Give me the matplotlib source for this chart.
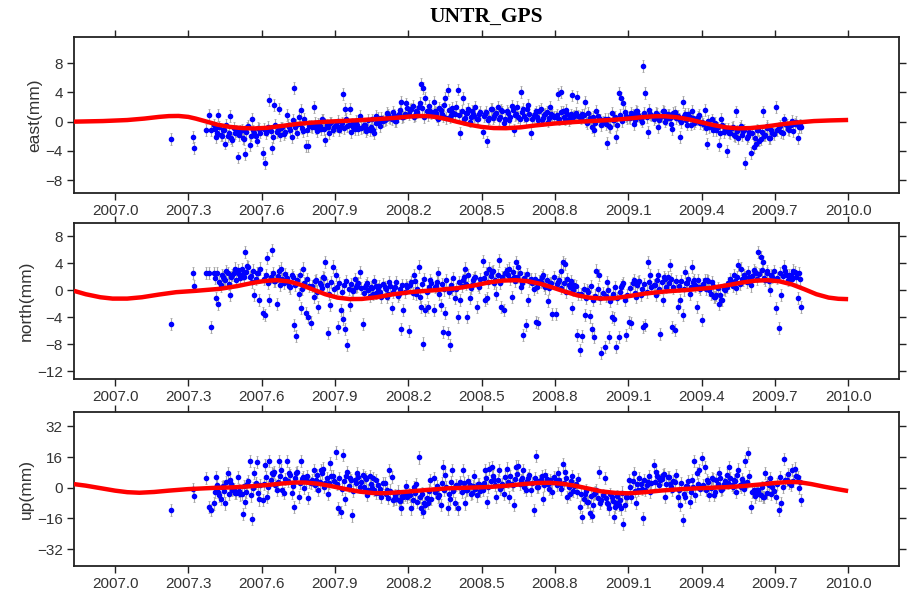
import numpy as np
import matplotlib
matplotlib.use("Agg")
import matplotlib.pyplot as plt

plt.rcParams['font.family'] = ['Liberation Sans', 'DejaVu Sans']

# epochs (decimal year), shared by all three components
t = [2007.229, 2007.318, 2007.324, 2007.371, 2007.384, 2007.394,
     2007.404, 2007.413, 2007.423, 2007.432, 2007.442, 2007.451, 2007.461, 2007.470, 2007.480, 2007.490,
     2007.504, 2007.513, 2007.523, 2007.532, 2007.542, 2007.551, 2007.561, 2007.570, 2007.580, 2007.590,
     2007.604, 2007.613, 2007.623, 2007.632, 2007.642, 2007.651, 2007.661, 2007.670, 2007.680, 2007.690,
     2007.704, 2007.713, 2007.723, 2007.732, 2007.742, 2007.751, 2007.761, 2007.770, 2007.780, 2007.790,
     2007.804, 2007.813, 2007.823, 2007.832, 2007.842, 2007.851, 2007.861, 2007.870, 2007.880, 2007.890,
     2007.904, 2007.913, 2007.923, 2007.932, 2007.942, 2007.951, 2007.961, 2007.970, 2007.980, 2007.990,
     2008.004, 2008.013, 2008.023, 2008.032, 2008.042, 2008.051, 2008.061, 2008.070, 2008.080, 2008.090,
     2008.104, 2008.113, 2008.123, 2008.132, 2008.142, 2008.151, 2008.161, 2008.170, 2008.180, 2008.190,
     2008.204, 2008.213, 2008.223, 2008.232, 2008.242, 2008.251, 2008.261, 2008.270, 2008.280, 2008.290,
     2008.304, 2008.313, 2008.323, 2008.332, 2008.342, 2008.351, 2008.361, 2008.370, 2008.380, 2008.390,
     2008.404, 2008.413, 2008.423, 2008.432, 2008.442, 2008.451, 2008.461, 2008.470, 2008.480, 2008.490,
     2008.504, 2008.513, 2008.523, 2008.532, 2008.542, 2008.551, 2008.561, 2008.570, 2008.580, 2008.590,
     2008.604, 2008.613, 2008.623, 2008.632, 2008.642, 2008.651, 2008.661, 2008.670, 2008.680, 2008.690,
     2008.704, 2008.713, 2008.723, 2008.732, 2008.742, 2008.751, 2008.761, 2008.770, 2008.780, 2008.790,
     2008.804, 2008.813, 2008.823, 2008.832, 2008.842, 2008.851, 2008.861, 2008.870, 2008.880, 2008.890,
     2008.904, 2008.913, 2008.923, 2008.932, 2008.942, 2008.951, 2008.961, 2008.970, 2008.980, 2008.990,
     2009.004, 2009.013, 2009.023, 2009.032, 2009.042, 2009.051, 2009.061, 2009.070, 2009.080, 2009.090,
     2009.104, 2009.113, 2009.123, 2009.132, 2009.142, 2009.151, 2009.161, 2009.170, 2009.180, 2009.190,
     2009.204, 2009.213, 2009.223, 2009.232, 2009.242, 2009.251, 2009.261, 2009.270, 2009.280, 2009.290,
     2009.304, 2009.313, 2009.323, 2009.332, 2009.342, 2009.351, 2009.361, 2009.370, 2009.380, 2009.390,
     2009.404, 2009.413, 2009.423, 2009.432, 2009.442, 2009.451, 2009.461, 2009.470, 2009.480, 2009.490,
     2009.504, 2009.513, 2009.523, 2009.532, 2009.542, 2009.551, 2009.561, 2009.570, 2009.580, 2009.590,
     2009.604, 2009.613, 2009.623, 2009.632, 2009.642, 2009.651, 2009.661, 2009.670, 2009.680, 2009.690,
     2009.705, 2009.716, 2009.727, 2009.738, 2009.749, 2009.760, 2009.771, 2009.782, 2009.796, 2009.808]

east = [-2.4, -2.1, -3.6, -1.1, 0.9, -1.1,
        -0.5, -2.1, 0.9, -1.8, -1.2, -3.0, -2.0, 0.8, -2.5, -1.6,
        -4.9, -1.3, -2.2, -4.4, -0.8, -3.2, 0.4, -1.5, -2.6, -1.0,
        -4.3, -5.7, -1.2, 3.0, -3.6, 2.3, -1.4, 1.8, -0.9, -1.7,
        0.9, -0.8, -2.1, 4.6, -0.4, 0.6, 1.6, -1.3, -3.3, -3.3,
        -0.6, 2.0, -0.9, -0.3, -1.0, 0.2, -2.5, -0.7, -0.2, -1.1,
        -0.5, 0.1, -0.8, 3.8, 1.7, -0.6, 1.8, -0.3, -1.0, -0.5,
        0.8, -0.7, -0.4, -1.0, -1.1, 0.3, -1.6, 0.8, 0.0, 0.5,
        0.2, 1.2, 0.6, 0.4, 0.9, 0.1, 1.1, 2.7, 0.7, 2.5,
        1.0, 1.8, 0.7, 1.4, 2.0, 5.2, 4.6, 3.2, 0.9, 1.5,
        2.7, 1.2, 0.3, 1.6, 0.8, 3.2, 4.3, 0.6, 1.9, 1.0,
        4.4, -1.6, 3.2, 0.5, 1.2, 0.0, 1.5, 0.8, 0.3, 1.0,
        -1.4, 1.0, -2.7, 0.5, 1.8, 0.8, 1.2, 0.3, 1.6, -0.2,
        1.5, 0.2, 2.2, -1.1, 1.0, 0.6, 4.1, 1.8, 0.4, 2.3,
        -1.6, 0.8, 1.4, 0.2, 1.8, 0.5, 1.1, 0.0, 2.0, 0.9,
        0.6, 3.8, 4.1, 1.4, 0.3, 1.0, 0.5, 3.6, 0.8, 3.4,
        0.7, 1.0, 2.7, -0.2, 0.5, -0.8, -1.1, 1.5, 0.3, -0.5,
        0.4, -2.9, -0.6, 1.2, 0.2, -2.1, 3.9, 3.2, 2.5, 0.8,
        0.6, 1.2, -0.3, 1.5, 0.9, 0.4, 7.6, 3.9, -1.4, 1.0,
        0.3, 1.2, -0.8, 0.7, 1.5, 0.0, 1.0, 0.5, -1.0, 1.3,
        0.8, -2.1, 2.7, 1.1, -0.4, 0.6, 1.5, -0.2, 0.3, 0.9,
        0.0, 1.6, -3.0, -0.8, 0.3, -0.5, -1.2, -3.2, 0.4, -1.4,
        -4.0, -1.5, -0.9, -1.8, 1.4, -2.2, -0.6, -1.3, -5.7, -2.0,
        -4.3, -3.5, -3.0, -1.2, -2.4, 1.4, -1.8, -0.6, -2.2, -1.5,
        2.0, -0.8, -1.4, 0.3, -0.5, -1.1, 0.1, -0.3, -2.3, -0.7]

north = [-5.0, 2.6, 0.6, 2.5, 2.5, -5.4,
         2.6, -1.2, -2.1, 0.7, 2.0, 1.5, 2.5, -0.7, 2.2, 3.2,
         3.0, 1.8, 2.4, 5.7, 3.6, 2.0, 1.2, -0.7, 2.6, -1.5,
         -3.4, -3.7, 4.7, -1.5, 5.9, 1.4, -2.0, 2.8, 3.2, 1.0,
         1.8, 0.6, 2.2, -5.2, -6.8, -0.6, -2.7, 3.2, -3.4, -4.0,
         -4.8, -1.0, 1.5, -2.5, 0.8, 2.0, 4.2, -6.4, -2.2, 3.5,
         2.2, -5.4, -3.0, -4.2, -5.7, -8.1, -2.2, 0.0, 1.7, 0.7,
         2.7, -5.0, 0.5, 1.0, -0.8, 0.3, 1.4, -0.4, 0.6, -1.0,
         0.5, -1.0, 1.2, -2.7, 0.3, 1.2, -0.5, -5.7, -3.0, 0.8,
         -6.1, 1.2, 2.2, -0.5, 3.5, -2.5, -7.9, -3.0, -2.5, 1.5,
         -3.0, 0.6, 2.5, -2.2, -6.2, -3.4, -6.4, -8.1, 0.2, -1.2,
         -4.0, -1.5, 1.5, 3.2, -4.0, -1.2, 0.8, 1.8, -2.5, 0.5,
         4.3, -1.5, -1.2, 3.2, 2.7, 1.0, -0.5, 4.4, -2.5, -3.0,
         3.0, 3.2, -1.0, 2.0, 4.2, 3.5, 0.5, -6.6, -5.2, -1.5,
         1.7, 0.2, -4.7, -4.9, 1.2, 2.2, 0.4, -1.6, 1.0, -3.5,
         -3.5, 1.2, 2.9, 4.1, 3.9, 1.6, 0.5, -2.7, 0.8, -6.6,
         -8.9, -6.8, -3.7, 0.0, -3.9, -5.7, -6.9, 2.9, 2.2, -9.3,
         -8.4, 1.2, -6.9, -4.0, -4.2, -8.4, -6.9, 0.5, 1.0, -6.7,
         -4.7, -4.9, 1.5, -1.0, 1.2, -0.7, -5.4, -5.2, 4.2, 2.2,
         0.7, -0.7, 2.2, -6.5, -1.4, 1.7, 2.0, 3.7, -5.4, -5.9,
         -2.5, -1.5, -3.7, 2.7, 1.0, -0.5, 3.5, 1.5, -2.5, 0.5,
         -4.4, 1.5, 1.5, 0.0, 1.2, -1.0, -0.7, -2.0, -1.5, 0.2,
         0.5, 1.0, 1.2, 2.2, 0.3, 3.7, 3.2, 1.5, 2.0, 2.7,
         0.7, 3.0, 2.5, 5.7, 4.9, 4.2, 1.5, 2.8, 0.0, 2.0,
         -2.7, -5.6, -0.7, 3.5, 2.2, 2.2, 1.7, 2.7, -1.2, -2.5]

up = [-11.6, -0.9, -4.3, 4.9, -9.9, -11.6,
      -8.2, 5.4, -2.0, -5.6, 1.0, -8.2, 7.5, 4.0, -1.2, -2.9,
      5.7, -3.5, -13.7, -7.3, 2.0, 13.9, -16.3, 7.5, 13.5, -6.1,
      -6.4, 11.8, -4.7, 14.1, 7.5, 8.3, -1.2, 14.1, 9.2, -2.9,
      14.1, 7.5, -2.9, -10.2, 7.5, -5.0, 14.1, 5.7, 4.0, -5.2,
      2.3, 9.2, 4.0, -1.2, 9.2, 10.0, 2.3, -3.0, 12.7, 6.0,
      18.4, -10.8, -12.5, 17.0, -5.7, 8.3, 4.9, -14.4, 4.0, 7.5,
      0.5, 6.6, 5.7, -3.8, 6.1, 0.0, -1.2, 4.0, -2.9, -4.7,
      2.3, -1.2, 9.2, 5.7, -5.6, -5.6, -6.4, -10.8, -4.7, 1.0,
      -3.3, -10.8, 0.5, 2.0, 15.8, -10.8, -12.5, -9.0, -7.8, 4.0,
      4.9, -1.2, -4.7, -9.0, 11.0, 6.6, -10.8, -5.6, 9.2, -8.2,
      -10.8, 3.1, 9.2, -8.2, -1.2, 1.5, -2.9, 6.0, -4.0, 2.0,
      -1.2, 9.2, -7.3, 10.0, 10.6, 4.0, -4.7, 9.2, 0.5, -3.0,
      10.0, -4.7, 2.0, -9.0, 11.0, 11.4, 4.0, 9.2, -1.2, 5.0,
      -1.2, -11.6, 16.5, 0.5, 4.0, -5.6, 6.6, 2.0, 4.0, -2.0,
      4.0, 7.5, 2.0, 12.3, 8.3, -4.7, -3.0, 6.0, 1.0, -2.0,
      -10.0, -15.1, -3.0, -7.3, -13.3, -14.6, -3.0, -1.2, 8.3, -6.4,
      4.9, -8.2, -10.8, -4.7, -15.1, -8.2, -9.0, -10.8, -18.9, -4.7,
      4.0, -4.7, 7.5, -7.8, -1.2, 2.0, -16.0, -1.2, 3.0, -2.0,
      11.8, 8.3, 5.7, 4.0, 6.6, -4.7, 5.7, 2.0, -1.0, 3.0,
      -4.7, -9.0, -16.8, -4.7, 1.0, -7.3, 4.0, 13.9, 7.5, 9.2,
      15.3, 10.9, 4.0, -3.8, 4.9, -3.8, 4.0, 7.5, -1.0, 2.0,
      6.6, 10.9, 1.4, 4.0, -2.0, 9.5, 0.5, 3.0, 14.1, 18.2,
      -9.9, -1.2, -3.0, -1.2, -3.8, -4.7, 7.5, 2.3, 5.0, 0.5,
      -4.7, -11.6, -8.2, 14.8, 4.0, 2.3, 9.2, 10.0, 5.7, -6.4]

# second batch of epochs: the dense core of each cloud
t2 = [2007.408, 2007.418, 2007.427, 2007.437, 2007.446, 2007.456, 2007.466, 2007.475, 2007.485, 2007.495,
      2007.508, 2007.518, 2007.527, 2007.537, 2007.546, 2007.556, 2007.566, 2007.575, 2007.585, 2007.595,
      2007.608, 2007.618, 2007.627, 2007.637, 2007.646, 2007.656, 2007.666, 2007.675, 2007.685, 2007.695,
      2007.708, 2007.718, 2007.727, 2007.737, 2007.746, 2007.756, 2007.766, 2007.775, 2007.785, 2007.795,
      2007.808, 2007.818, 2007.827, 2007.837, 2007.846, 2007.856, 2007.866, 2007.875, 2007.885, 2007.895,
      2007.908, 2007.918, 2007.927, 2007.937, 2007.946, 2007.956, 2007.966, 2007.975, 2007.985, 2007.995,
      2008.008, 2008.018, 2008.027, 2008.037, 2008.046, 2008.056, 2008.066, 2008.075, 2008.085, 2008.095,
      2008.108, 2008.118, 2008.127, 2008.137, 2008.146, 2008.156, 2008.166, 2008.175, 2008.185, 2008.195,
      2008.208, 2008.218, 2008.227, 2008.237, 2008.246, 2008.256, 2008.266, 2008.275, 2008.285, 2008.295,
      2008.308, 2008.318, 2008.327, 2008.337, 2008.346, 2008.356, 2008.366, 2008.375, 2008.385, 2008.395,
      2008.408, 2008.418, 2008.427, 2008.437, 2008.446, 2008.456, 2008.466, 2008.475, 2008.485, 2008.495,
      2008.508, 2008.518, 2008.527, 2008.537, 2008.546, 2008.556, 2008.566, 2008.575, 2008.585, 2008.595,
      2008.608, 2008.618, 2008.627, 2008.637, 2008.646, 2008.656, 2008.666, 2008.675, 2008.685, 2008.695,
      2008.708, 2008.718, 2008.727, 2008.737, 2008.746, 2008.756, 2008.766, 2008.775, 2008.785, 2008.795,
      2008.808, 2008.818, 2008.827, 2008.837, 2008.846, 2008.856, 2008.866, 2008.875, 2008.885, 2008.895,
      2008.908, 2008.918, 2008.927, 2008.937, 2008.946, 2008.956, 2008.966, 2008.975, 2008.985, 2008.995,
      2009.008, 2009.018, 2009.027, 2009.037, 2009.046, 2009.056, 2009.066, 2009.075, 2009.085, 2009.095,
      2009.108, 2009.118, 2009.127, 2009.137, 2009.146, 2009.156, 2009.166, 2009.175, 2009.185, 2009.195,
      2009.208, 2009.218, 2009.227, 2009.237, 2009.246, 2009.256, 2009.266, 2009.275, 2009.285, 2009.295,
      2009.308, 2009.318, 2009.327, 2009.337, 2009.346, 2009.356, 2009.366, 2009.375, 2009.385, 2009.395,
      2009.408, 2009.418, 2009.427, 2009.437, 2009.446, 2009.456, 2009.466, 2009.475, 2009.485, 2009.495,
      2009.508, 2009.518, 2009.527, 2009.537, 2009.546, 2009.556, 2009.566, 2009.575, 2009.585, 2009.595,
      2009.608, 2009.618, 2009.627, 2009.637, 2009.646, 2009.656, 2009.666, 2009.675, 2009.685, 2009.695,
      2009.710, 2009.721, 2009.732, 2009.743, 2009.754, 2009.765, 2009.776, 2009.787, 2009.799, 2009.804]

east2 = [-1.0, -1.6, -0.7, -1.9, -1.2, -0.4, -1.5, -2.2, -0.9, -1.3,
         -1.8, -1.1, -2.4, -1.4, -0.6, -1.9, -1.2, -2.0, -0.9, -1.5,
         -1.0, -1.6, -0.7, -1.3, -2.1, -0.5, -1.1, -1.8, -0.8, -1.4,
         -0.4, -1.2, 0.2, -0.8, -1.5, -0.3, -0.9, 0.4, -1.1, -0.6,
         -0.8, -0.2, -1.3, -0.6, 0.3, -1.0, -0.4, -1.6, -0.1, -0.7,
         -0.6, -1.2, -0.2, -0.9, 0.4, -0.5, -1.4, -0.8, 0.1, -1.0,
         -0.9, -0.4, -1.3, 0.2, -0.7, -1.1, -0.2, 0.5, -0.6, 0.1,
         0.3, 0.9, 0.5, 1.3, 0.1, 0.8, 1.6, 0.6, 1.1, 1.9,
         1.6, 2.2, 0.9, 1.3, 2.6, 1.9, 0.6, 1.4, 2.1, 1.1,
         1.4, 0.7, 1.9, 1.1, 2.3, 0.5, 1.6, 0.9, 1.2, 2.0,
         0.9, 1.5, 0.4, 1.2, 1.8, 0.6, 1.0, 2.0, 0.3, 1.3,
         0.8, 1.3, 0.2, 1.7, 0.5, 1.0, 2.0, 0.7, 1.4, 0.3,
         1.2, 0.6, 1.6, 0.9, 2.0, 0.4, 1.3, 0.8, 1.7, 1.0,
         0.4, 1.1, 0.7, 1.5, 0.2, 0.9, 1.3, 0.5, 1.0, 0.6,
         0.9, 0.4, 1.3, 0.7, 1.6, 0.2, 1.0, 0.6, 1.2, 0.8,
         0.5, 0.9, 0.1, 1.2, 0.4, 0.7, -0.2, 0.8, 0.3, 0.0,
         -0.3, 0.4, -0.7, 0.2, 0.7, -0.4, 0.9, 0.1, 1.3, 0.5,
         0.5, 1.0, 0.2, 1.4, 0.7, 0.0, 1.2, 0.6, 1.6, 0.9,
         0.6, 1.1, 0.2, 0.8, 1.4, 0.4, 0.9, -0.3, 1.2, 0.5,
         0.4, -0.1, 0.8, 0.2, 1.1, -0.4, 0.5, 0.0, 0.7, -0.2,
         -0.3, -0.9, 0.1, -0.6, -1.2, -0.2, -0.8, -1.5, -0.5, -1.0,
         -1.0, -1.6, -0.7, -2.0, -1.3, -0.9, -1.8, -1.1, -2.3, -1.4,
         -1.6, -2.2, -1.1, -2.6, -1.4, -1.9, -0.9, -2.3, -1.2, -1.7,
         -1.2, -0.6, -1.6, -0.3, -1.0, -0.5, -1.3, 0.0, -0.8, -0.4]

north2 = [1.8, 2.5, 1.2, 2.2, 1.6, 2.8, 0.9, 2.0, 2.6, 1.5,
          2.4, 3.1, 1.9, 2.7, 3.4, 2.1, 2.9, 1.6, 2.5, 3.2,
          1.6, 2.3, 1.1, 1.9, 2.6, 1.3, 2.1, 0.8, 1.7, 2.4,
          1.2, 0.4, 1.9, 0.8, 1.5, 2.3, 0.2, 1.1, 1.7, 0.6,
          0.6, 1.4, -0.2, 1.0, 0.3, 1.8, 0.8, -0.5, 1.2, 0.1,
          0.4, 1.0, -0.3, 0.7, 1.3, 0.2, 0.9, -0.1, 0.5, 1.1,
          0.3, -0.4, 0.8, 0.0, 0.5, -0.6, 0.6, 0.1, -0.2, 0.9,
          0.1, -0.5, 0.6, -0.2, 0.4, -0.8, 0.2, 0.7, -0.3, 0.5,
          0.8, -0.4, 1.3, 0.2, -1.0, 0.9, 1.6, -0.2, 0.5, 1.1,
          0.5, 1.2, -0.6, 0.9, 0.1, 1.5, -0.3, 0.7, 1.8, 0.2,
          1.2, 0.6, 1.9, 0.9, 2.3, 0.3, 1.5, 2.0, 0.8, 1.6,
          1.8, 2.5, 1.2, 2.1, 2.8, 1.5, 2.3, 1.0, 1.9, 2.6,
          2.2, 1.6, 2.7, 1.3, 2.0, 2.5, 1.1, 1.8, 2.4, 1.4,
          1.0, 1.7, 0.5, 1.3, 2.0, 0.8, 1.5, 0.3, 1.1, 1.9,
          0.9, 1.5, 0.3, 1.1, -0.2, 0.7, 1.3, 0.0, 0.6, -0.5,
          -0.6, 0.2, -1.2, -0.3, 0.6, -1.5, -0.8, 0.1, -1.1, -0.4,
          -0.9, 0.0, -1.6, -0.5, 0.4, -1.2, -0.2, 0.7, -1.4, -0.7,
          0.3, 1.0, -0.4, 0.7, 1.4, 0.1, 0.9, -0.2, 1.2, 0.5,
          0.8, 1.5, 0.2, 1.2, 1.9, 0.5, 1.1, 1.7, 0.4, 1.3,
          0.6, 1.3, 0.1, 1.0, 1.7, 0.4, 1.2, 0.7, 1.5, 0.2,
          0.9, 0.2, 1.4, -0.5, 0.6, -1.0, 0.3, -0.7, -1.4, 0.0,
          1.0, 1.7, 0.6, 1.4, 2.0, 0.9, 1.6, 2.3, 1.2, 1.9,
          2.1, 2.7, 1.6, 2.4, 3.0, 1.8, 2.5, 1.4, 2.2, 2.8,
          1.8, 2.5, 2.1, 2.8, 1.5, 2.3, 2.9, 1.9, 2.6, 1.6]

up2 = [-2.0, 1.5, -4.0, 0.5, -1.5, 3.0, -3.0, 2.0, -0.5, -2.5,
       -1.5, -3.0, 1.0, -2.0, 3.5, -4.0, 0.0, 2.5, -2.5, 1.5,
       2.0, 5.5, 0.5, 4.0, 7.0, 1.5, 3.0, 6.0, -1.0, 4.5,
       3.5, 6.5, 1.0, 5.0, 8.0, 2.5, 4.5, 0.0, 6.0, 3.0,
       4.0, 1.5, 6.5, 3.0, 7.5, 0.5, 5.0, 2.5, 6.0, 3.5,
       2.0, 5.0, -0.5, 3.5, 6.0, 1.0, 4.0, -1.5, 2.5, 5.5,
       3.0, 0.5, 4.5, -1.0, 2.0, 5.0, -2.5, 1.5, -0.5, 2.5,
       -3.0, -5.5, -1.5, -6.5, -4.0, -2.0, -7.0, -4.5, -3.5, -5.0,
       -4.0, -6.5, -2.5, -7.5, -5.0, -3.0, -8.0, -5.5, -1.5, -6.0,
       -2.0, 1.0, -4.0, 2.5, -1.0, 0.5, -3.0, 3.0, -1.5, 1.5,
       0.5, -2.0, 2.5, -1.0, 3.5, -3.0, 1.0, -0.5, 2.0, -1.5,
       2.5, 5.0, 0.5, 3.5, 6.0, 1.5, 4.0, -0.5, 2.0, 5.5,
       3.0, 6.0, 1.5, 4.5, 7.0, 2.0, 5.0, 0.5, 3.5, 6.5,
       2.5, 5.0, 0.5, 3.5, 6.0, 1.5, 4.5, -0.5, 3.0, 5.5,
       1.5, 4.0, -0.5, 2.5, 5.0, 0.5, 3.5, -1.5, 2.0, 4.5,
       -3.0, -6.0, -1.5, -7.5, -4.5, -9.0, -2.5, -5.5, -8.0, -4.0,
       -5.5, -8.5, -3.5, -7.0, -10.0, -4.5, -6.5, -2.5, -9.0, -5.0,
       0.5, 3.5, -1.5, 2.0, 5.0, -0.5, 4.0, 1.5, 6.0, 2.5,
       3.0, 6.0, 1.5, 4.5, 7.0, 2.0, 5.5, 0.5, 3.5, 6.5,
       -1.0, 2.5, -3.0, 1.0, 3.5, -2.0, 0.5, -4.0, 2.0, -0.5,
       1.5, -1.0, 3.0, 0.0, 4.5, -2.0, 2.0, 5.0, -0.5, 3.5,
       2.5, 5.0, 0.5, 3.5, 6.5, 1.5, 4.5, -0.5, 3.0, 6.0,
       -2.0, -4.5, -1.0, -3.5, 0.5, -5.0, -2.5, 1.5, -3.0, -1.5,
       2.0, 5.5, 0.5, 4.0, 7.0, 1.5, 3.5, 6.0, 0.0, 3.0]

# seasonal model curves (red), read at knots
east_fit_t = [2006.832, 2006.95, 2007.05, 2007.12, 2007.18, 2007.22, 2007.26, 2007.30, 2007.33,
              2007.37, 2007.42, 2007.47, 2007.52, 2007.57, 2007.62, 2007.68, 2007.75, 2007.82,
              2007.90, 2007.98, 2008.06, 2008.14, 2008.20, 2008.24, 2008.28, 2008.32, 2008.36,
              2008.40, 2008.45, 2008.50, 2008.55, 2008.60, 2008.66, 2008.72, 2008.80, 2008.88,
              2008.96, 2009.04, 2009.10, 2009.16, 2009.21, 2009.25, 2009.30, 2009.35, 2009.40,
              2009.45, 2009.50, 2009.55, 2009.60, 2009.66, 2009.72, 2009.78, 2009.86, 2009.93,
              2010.00]
east_fit = [0.0, 0.08, 0.22, 0.42, 0.65, 0.76, 0.78, 0.65, 0.42,
            0.05, -0.42, -0.72, -0.88, -0.93, -0.85, -0.6, -0.3, -0.1,
            0.05, 0.17, 0.32, 0.5, 0.68, 0.77, 0.76, 0.6, 0.32,
            -0.02, -0.42, -0.72, -0.88, -0.9, -0.78, -0.52, -0.25, -0.05,
            0.1, 0.25, 0.42, 0.62, 0.74, 0.74, 0.6, 0.3, -0.1,
            -0.48, -0.78, -0.92, -0.88, -0.68, -0.4, -0.15, 0.08, 0.17,
            0.23]

north_fit_t = [2006.832, 2006.88, 2006.94, 2006.99, 2007.05, 2007.11, 2007.18, 2007.25, 2007.33,
               2007.43, 2007.50, 2007.56, 2007.61, 2007.66, 2007.71, 2007.76, 2007.81, 2007.86,
               2007.91, 2007.96, 2008.01, 2008.07, 2008.14, 2008.22, 2008.31, 2008.40, 2008.47,
               2008.53, 2008.59, 2008.64, 2008.69, 2008.74, 2008.79, 2008.84, 2008.89, 2008.94,
               2008.99, 2009.04, 2009.10, 2009.17, 2009.25, 2009.35, 2009.44, 2009.51, 2009.57,
               2009.62, 2009.67, 2009.72, 2009.77, 2009.82, 2009.87, 2009.92, 2009.96, 2010.00]
north_fit = [-0.1, -0.6, -1.05, -1.25, -1.25, -1.05, -0.65, -0.3, -0.1,
             0.2, 0.6, 1.05, 1.35, 1.48, 1.3, 0.8, 0.1, -0.6,
             -1.1, -1.32, -1.3, -1.05, -0.6, -0.25, 0.0, 0.3, 0.7,
             1.15, 1.42, 1.48, 1.32, 0.95, 0.4, -0.2, -0.75, -1.1,
             -1.25, -1.2, -0.9, -0.5, -0.2, 0.05, 0.35, 0.75, 1.15,
             1.4, 1.48, 1.3, 0.85, 0.15, -0.6, -1.1, -1.28, -1.33]

up_fit_t = [2006.832, 2006.88, 2006.94, 2007.00, 2007.05, 2007.10, 2007.16, 2007.22, 2007.30,
            2007.40, 2007.48, 2007.56, 2007.63, 2007.69, 2007.74, 2007.78, 2007.83, 2007.88,
            2007.94, 2008.00, 2008.06, 2008.11, 2008.18, 2008.27, 2008.36, 2008.46, 2008.53,
            2008.60, 2008.67, 2008.73, 2008.78, 2008.83, 2008.88, 2008.94, 2008.99, 2009.05,
            2009.10, 2009.16, 2009.24, 2009.33, 2009.42, 2009.50, 2009.57, 2009.64, 2009.70,
            2009.76, 2009.80, 2009.85, 2009.90, 2009.95, 2010.00]
up_fit = [1.9, 1.1, -0.2, -1.5, -2.3, -2.6, -2.2, -1.5, -0.7,
          -0.1, 0.2, 0.8, 1.5, 2.3, 2.75, 2.7, 2.1, 1.0,
          -0.6, -2.0, -2.8, -2.8, -2.2, -1.2, -0.3, 0.1, 0.4,
          1.0, 1.9, 2.5, 2.6, 2.1, 1.1, -0.5, -1.9, -2.7,
          -2.9, -2.4, -1.4, -0.6, -0.1, 0.3, 0.9, 1.7, 2.5,
          3.0, 2.9, 1.9, 0.6, -0.6, -1.7]

xticks = [2007.0, 2007.3, 2007.6, 2007.9, 2008.2, 2008.5, 2008.8, 2009.1, 2009.4, 2009.7, 2010.0]

panels = [
    ("east(mm)", east, east2, 0.8, east_fit_t, east_fit, (-9.77, 11.6), [8, 4, 0, -4, -8]),
    ("north(mm)", north, north2, 0.9, north_fit_t, north_fit, (-13.2, 9.9), [8, 4, 0, -4, -8, -12]),
    ("up(mm)", up, up2, 3.2, up_fit_t, up_fit, (-40.6, 39.6), [32, 16, 0, -16, -32]),
]
boxes = [[0.0811, 0.6773, 0.9046, 0.2609],
         [0.0811, 0.3657, 0.9046, 0.2609],
         [0.0811, 0.0540, 0.9046, 0.2575]]

fig = plt.figure(figsize=(9.12, 5.98), dpi=100)

for (label, vals, vals2, sig, ft, fv, ylim, yt), box in zip(panels, boxes):
    ax = fig.add_axes(box)
    for tt, vv in ((t, vals), (t2, vals2)):
        ax.errorbar(tt, vv, yerr=sig, fmt='o', ms=3.0, mfc='#0000ff', mec='#0000ff',
                    ecolor='#a8a8a8', elinewidth=0.8, capsize=1.0, capthick=0.6, zorder=2)
    ax.plot(ft, fv, color='#ff0000', lw=3.2, solid_joinstyle='round',
            solid_capstyle='butt', zorder=3)
    ax.set_xlim(2006.832, 2010.208)
    ax.set_ylim(*ylim)
    ax.set_xticks(xticks)
    ax.set_xticklabels(["%.1f" % v for v in xticks])
    ax.set_yticks(yt)
    ax.tick_params(direction='out', top=True, right=True, length=5, width=1,
                   labelsize=11, pad=3, colors='#222222', labelcolor='#333333')
    for s in ax.spines.values():
        s.set_linewidth(1.3)
        s.set_color('#222222')
    ax.set_ylabel(label, fontsize=12.5, color='#333333', labelpad=2)

fig.text(0.533, 0.972, "UNTR_GPS", ha='center', va='center', fontsize=15.5,
         fontweight='bold', family='Liberation Serif')

fig.savefig("out.png", dpi=100)
